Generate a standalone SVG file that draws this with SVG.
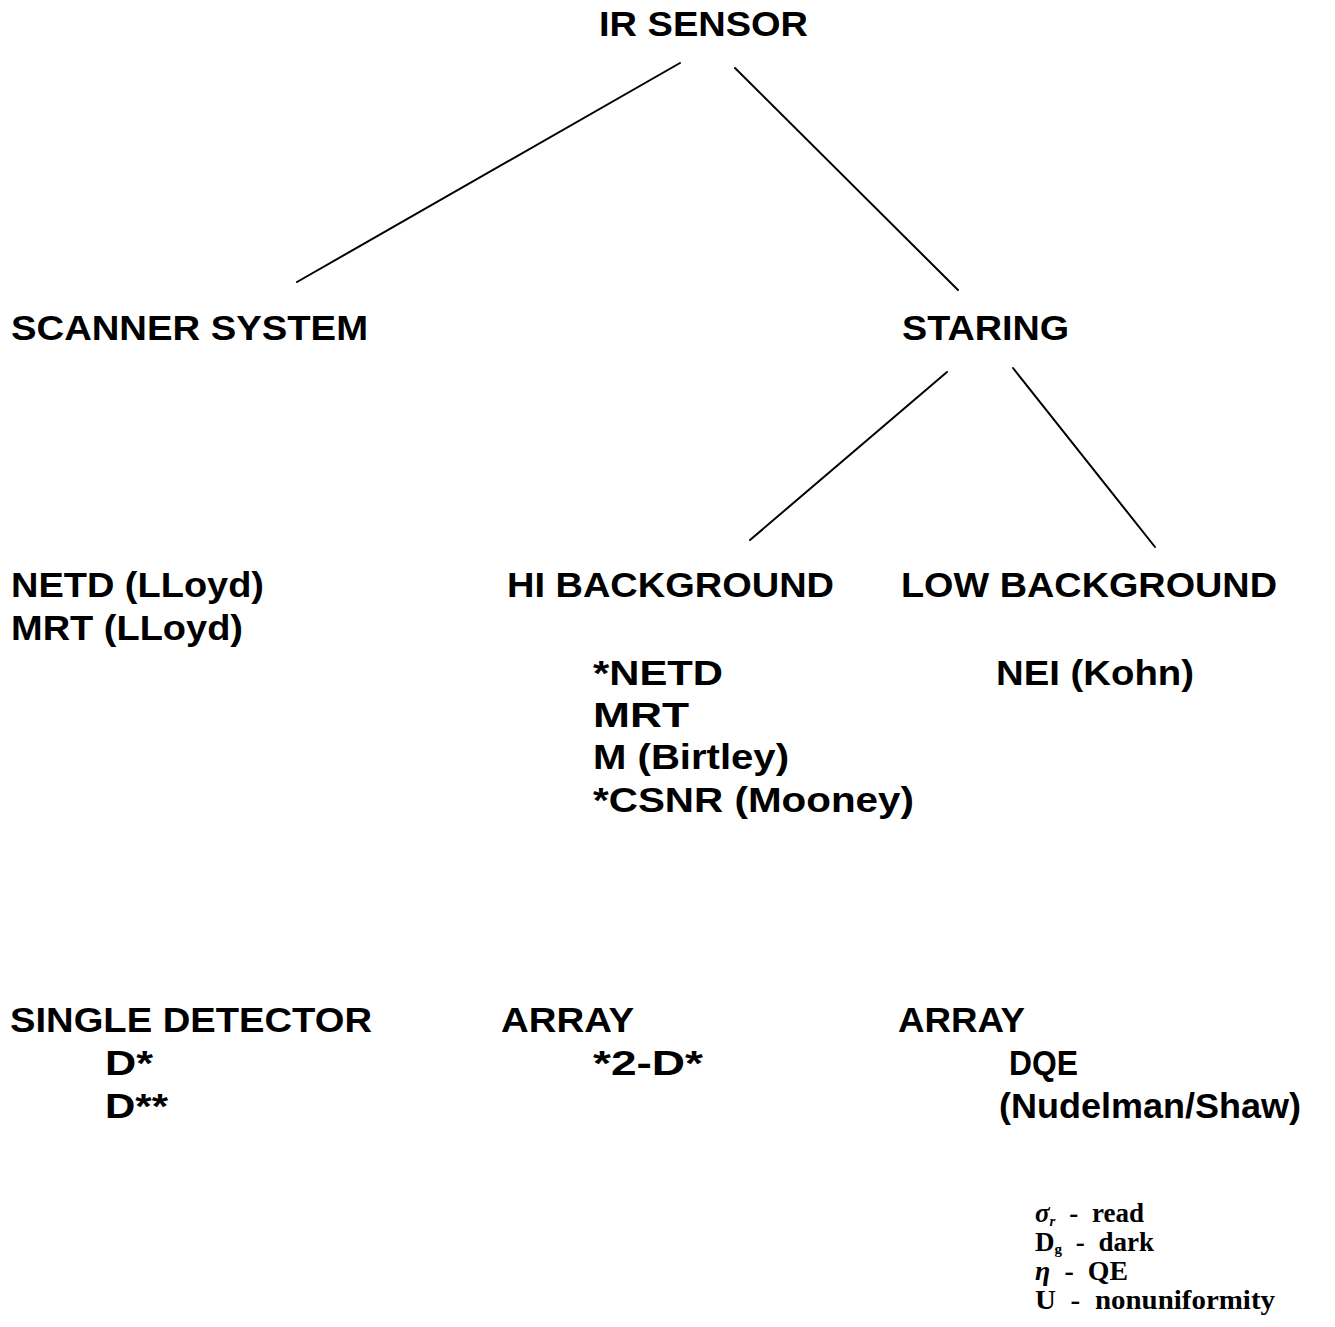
<svg xmlns="http://www.w3.org/2000/svg" width="1335" height="1327" viewBox="0 0 1335 1327">
<style>
.t{font-family:"Liberation Sans",Arial,sans-serif;font-weight:bold;font-size:35px;fill:#000}
.s{font-family:"Liberation Serif","Times New Roman",serif;font-weight:bold;font-size:27px;fill:#000;word-spacing:7px}
.sub{font-size:15px}
.c line{stroke:#000;stroke-width:2;stroke-linecap:round}
</style>
<rect width="1335" height="1327" fill="#fff"/>
<g id="connectors" class="c">
<line x1="680" y1="63" x2="297" y2="282"/>
<line x1="735" y1="68" x2="958" y2="290"/>
<line x1="947" y1="372" x2="750" y2="540"/>
<line x1="1013" y1="368" x2="1155" y2="547"/>
</g>
<g id="ir-sensor"><text class="t" x="599" y="36" textLength="209" lengthAdjust="spacingAndGlyphs">IR SENSOR</text></g>
<g id="scanner-system"><text class="t" x="11" y="340" textLength="357" lengthAdjust="spacingAndGlyphs">SCANNER SYSTEM</text></g>
<g id="staring"><text class="t" x="902" y="340" textLength="167" lengthAdjust="spacingAndGlyphs">STARING</text></g>
<g id="scanner-metrics">
<text class="t" x="11" y="597" textLength="253" lengthAdjust="spacingAndGlyphs">NETD (LLoyd)</text>
<text class="t" x="11" y="640" textLength="232" lengthAdjust="spacingAndGlyphs">MRT (LLoyd)</text>
</g>
<g id="hi-background"><text class="t" x="507" y="597" textLength="327" lengthAdjust="spacingAndGlyphs">HI BACKGROUND</text></g>
<g id="low-background"><text class="t" x="901" y="597" textLength="376" lengthAdjust="spacingAndGlyphs">LOW BACKGROUND</text></g>
<g id="hi-metrics">
<text class="t" x="593" y="685" textLength="130" lengthAdjust="spacingAndGlyphs">*NETD</text>
<text class="t" x="593" y="727" textLength="96" lengthAdjust="spacingAndGlyphs">MRT</text>
<text class="t" x="593" y="769" textLength="196" lengthAdjust="spacingAndGlyphs">M (Birtley)</text>
<text class="t" x="593" y="812" textLength="321" lengthAdjust="spacingAndGlyphs">*CSNR (Mooney)</text>
</g>
<g id="low-metrics"><text class="t" x="996" y="685" textLength="198" lengthAdjust="spacingAndGlyphs">NEI (Kohn)</text></g>
<g id="single-detector"><text class="t" x="10" y="1032" textLength="362" lengthAdjust="spacingAndGlyphs">SINGLE DETECTOR</text></g>
<g id="array-hi"><text class="t" x="501" y="1032" textLength="133" lengthAdjust="spacingAndGlyphs">ARRAY</text></g>
<g id="array-low"><text class="t" x="898" y="1032" textLength="127" lengthAdjust="spacingAndGlyphs">ARRAY</text></g>
<g id="single-metrics">
<text class="t" x="105" y="1075" textLength="48" lengthAdjust="spacingAndGlyphs">D*</text>
<text class="t" x="105" y="1118" textLength="63" lengthAdjust="spacingAndGlyphs">D**</text>
</g>
<g id="array-hi-metrics"><text class="t" x="593" y="1075" textLength="110" lengthAdjust="spacingAndGlyphs">*2-D*</text></g>
<g id="array-low-metrics">
<text class="t" x="1009" y="1075" textLength="69" lengthAdjust="spacingAndGlyphs">DQE</text>
<text class="t" x="999" y="1118" textLength="302" lengthAdjust="spacingAndGlyphs">(Nudelman/Shaw)</text>
</g>
<g id="legend">
<text class="s" x="1035" y="1222"><tspan font-style="italic">σ</tspan><tspan class="sub" dy="4" font-style="italic">r</tspan><tspan dy="-4"> - read</tspan></text>
<text class="s" x="1035" y="1251">D<tspan class="sub" dy="3">g</tspan><tspan dy="-3"> - dark</tspan></text>
<text class="s" x="1035" y="1280" textLength="93" lengthAdjust="spacingAndGlyphs"><tspan font-style="italic">η</tspan> - QE</text>
<text class="s" x="1035" y="1309" textLength="240" lengthAdjust="spacingAndGlyphs">U - nonuniformity</text>
</g>
</svg>
